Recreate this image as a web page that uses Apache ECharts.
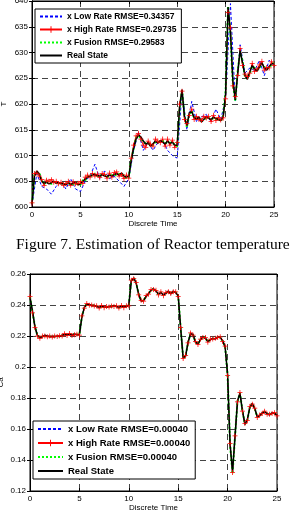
<!DOCTYPE html>
<html lang="en">
<head>
	<meta charset="UTF-8">
	<title>Figure 7</title>
	<style>
		html,body{background-color:#fff;height:100%;overflow:hidden;margin:0;padding:0;}
		#main{position:absolute;top:0;left:0;width:298px;height:514px;}
	</style>
</head>
<body>
	<div id="main"></div>
	<script src="https://cdn.jsdelivr.net/npm/echarts@6/dist/echarts.min.js"></script>
	<script>
		// time axes
		var tFine = [0,0.25,0.5,0.75,1,1.25,1.5,1.75,2,2.25,2.5,2.75,3,3.25,3.5,3.75,4,4.25,4.5,4.75,5,5.25,5.5,5.75,6,6.25,6.5,6.75,7,7.25,7.5,7.75,8,8.25,8.5,8.75,9,9.25,9.5,9.75,10,10.25,10.5,10.75,11,11.25,11.5,11.75,12,12.25,12.5,12.75,13,13.25,13.5,13.75,14,14.25,14.5,14.75,15,15.25,15.5,15.75,16,16.25,16.5,16.75,17,17.25,17.5,17.75,18,18.25,18.5,18.75,19,19.25,19.5,19.75,20,20.25,20.5,20.75,21,21.25,21.5,21.75,22,22.25,22.5,22.75,23,23.25,23.5,23.75,24,24.25,24.5,24.75,25];
		var tCoarse = [0,0.5,1,1.5,2,2.5,3,3.5,4,4.5,5,5.5,6,6.5,7,7.5,8,8.5,9,9.5,10,10.5,11,11.5,12,12.5,13,13.5,14,14.5,15,15.5,16,16.5,17,17.5,18,18.5,19,19.5,20,20.5,21,21.5,22,22.5,23,23.5,24,24.5,25];

		// top chart: reactor temperature
		var tempNames = ['x Low Rate RMSE=0.34357', 'x High Rate RMSE=0.29735', 'x Fusion RMSE=0.29583', 'Real State'];
		var tempTicks = [600, 640, 5];
		var tempReal = [
			600.5,606.0,607.0,606.4, 605.0,604.6,604.8,604.5, 604.7,605.0,604.6,604.8, 604.5,604.6,604.3,604.7,
			604.4,604.6,604.8,604.3, 604.5,605.0,605.4,605.8, 606.0,606.2,606.3,606.1, 606.0,606.3,606.0,605.9,
			606.2,606.0,606.3,606.5, 606.2,606.6,606.0,605.8, 606.0,609.0,611.5,613.2, 614.0,613.6,612.8,612.2,
			612.5,611.8,612.3,612.8, 612.4,612.9,612.6,612.2, 612.8,612.3,612.6,612.0, 612.0,619.5,622.8,617.5,
			615.8,618.3,618.5,617.4, 617.0,617.5,616.5,617.0, 617.6,617.2,617.0,617.4, 617.2,617.0,616.8,617.5,
			622.0,638.8,634.0,624.5, 620.8,626.0,630.4,628.0, 625.5,624.8,626.2,627.5, 626.8,626.4,627.2,628.0,
			627.0,626.6,627.3,627.8, 627.8];
		var tempHigh = [
			600.8,606.5,606.6,606.0, 605.3,604.2,605.2,605.0, 605.3,604.8,605.0,604.5, 604.8,604.2,604.6,605.0,
			604.2,604.9,604.5,604.6, 605.0,604.6,605.8,606.2, 605.8,606.5,606.0,606.4, 605.7,606.5,606.3,605.6,
			606.6,605.8,606.7,606.8, 606.0,606.3,605.5,606.2, 605.6,609.5,612.0,613.8, 614.3,613.2,612.0,611.6,
			612.8,612.2,611.8,613.2, 612.8,612.5,613.2,611.8, 613.2,612.0,613.0,611.6, 612.5,620.0,622.5,617.0,
			616.2,617.8,619.0,617.0, 617.6,617.0,616.8,617.6, 617.3,617.6,616.6,617.8, 616.8,617.4,616.9,617.3,
			621.0,637.8,634.8,623.5, 621.5,625.5,630.8,627.5, 625.8,625.3,626.0,627.9, 626.3,626.8,627.6,628.3,
			626.6,627.1,627.0,628.2, 627.5];
		var tempFusion = [
			600.6,606.2,606.8,606.6, 605.2,604.4,605.0,604.7, 604.5,604.8,604.9,604.6, 604.7,604.4,604.5,604.5,
			604.6,604.4,604.6,604.5, 604.3,605.2,605.2,605.9, 606.2,606.0,606.5,606.0, 606.2,606.1,606.2,605.8,
			606.0,606.2,606.1,606.3, 606.4,606.4,606.2,605.6, 605.8,609.3,611.3,613.4, 613.8,613.4,612.6,612.4,
			612.3,612.0,612.1,612.6, 612.6,612.7,612.8,612.4, 612.6,612.5,612.4,612.2, 611.8,619.2,622.6,617.8,
			615.5,618.0,618.7,617.2, 617.2,617.3,616.7,616.9, 617.4,617.3,617.2,617.2, 617.0,617.2,616.6,617.7,
			622.5,639.0,633.5,624.0, 620.5,626.4,630.2,628.3, 625.2,625.0,626.0,627.3, 627.0,626.6,627.0,627.8,
			627.2,626.8,627.1,627.6, 628.0];
		var tempLow = [
			600.5,606.5, 604.0,603.5, 602.5,604.0, 605.0,603.5, 605.5,603.5, 603.0,605.0, 606.0,608.3,
			605.5,607.0, 605.5,606.0, 605.0,604.0, 605.5,611.0, 614.5,611.0, 612.5,611.0, 612.5,613.0,
			611.0,610.0, 609.5,622.5, 615.0,620.5, 616.5,617.5, 618.0,616.5, 619.0,617.0, 621.0,639.5,
			620.5,631.5, 626.0,627.0, 626.5,628.5, 625.5,628.5, 627.5];

		// bottom chart: concentration
		var concNames = ['x Low Rate RMSE=0.00040', 'x High Rate RMSE=0.00040', 'x Fusion RMSE=0.00040', 'Real State'];
		var concTicks = [0.12, 0.26, 0.02];
		var concReal = [
			0.2450,0.2360,0.2260,0.2205, 0.2190,0.2195,0.2205,0.2200, 0.2195,0.2198,0.2195,0.2200, 0.2197,0.2205,0.2210,0.2208,
			0.2212,0.2207,0.2213,0.2208, 0.2210,0.2320,0.2385,0.2405, 0.2403,0.2395,0.2398,0.2390, 0.2385,0.2392,0.2388,0.2385,
			0.2392,0.2388,0.2395,0.2390, 0.2385,0.2392,0.2388,0.2390, 0.2400,0.2555,0.2575,0.2540, 0.2470,0.2425,0.2430,0.2455,
			0.2475,0.2495,0.2505,0.2490, 0.2470,0.2480,0.2465,0.2475, 0.2490,0.2470,0.2490,0.2480, 0.2460,0.2250,0.2060,0.2070,
			0.2160,0.2215,0.2210,0.2160, 0.2150,0.2175,0.2195,0.2185, 0.2165,0.2175,0.2185,0.2180, 0.2195,0.2190,0.2170,0.2130,
			0.1950,0.1500,0.1325,0.1550, 0.1780,0.1830,0.1720,0.1630, 0.1660,0.1740,0.1765,0.1730, 0.1680,0.1685,0.1705,0.1710,
			0.1700,0.1690,0.1705,0.1700, 0.1690];
		var concHigh = [
			0.2455,0.2350,0.2255,0.2200, 0.2185,0.2200,0.2200,0.2195, 0.2200,0.2193,0.2200,0.2196, 0.2202,0.2200,0.2215,0.2204,
			0.2216,0.2203,0.2208,0.2212, 0.2205,0.2330,0.2380,0.2410, 0.2398,0.2400,0.2393,0.2395, 0.2380,0.2397,0.2383,0.2390,
			0.2387,0.2393,0.2390,0.2395, 0.2380,0.2397,0.2383,0.2395, 0.2395,0.2560,0.2570,0.2545, 0.2465,0.2430,0.2425,0.2460,
			0.2470,0.2500,0.2500,0.2495, 0.2465,0.2485,0.2460,0.2480, 0.2485,0.2475,0.2485,0.2485, 0.2455,0.2255,0.2055,0.2075,
			0.2155,0.2220,0.2205,0.2165, 0.2145,0.2180,0.2190,0.2190, 0.2160,0.2180,0.2180,0.2185, 0.2190,0.2195,0.2165,0.2135,
			0.1945,0.1505,0.1320,0.1555, 0.1775,0.1835,0.1715,0.1635, 0.1655,0.1745,0.1760,0.1735, 0.1675,0.1690,0.1700,0.1715,
			0.1695,0.1695,0.1700,0.1705, 0.1685];
		var concFusion = [
			0.2452,0.2356,0.2262,0.2203, 0.2192,0.2197,0.2203,0.2198, 0.2197,0.2196,0.2197,0.2198, 0.2199,0.2203,0.2208,0.2210,
			0.2210,0.2209,0.2211,0.2210, 0.2208,0.2325,0.2383,0.2407, 0.2401,0.2397,0.2396,0.2392, 0.2383,0.2394,0.2386,0.2387,
			0.2390,0.2390,0.2393,0.2392, 0.2383,0.2394,0.2386,0.2392, 0.2398,0.2557,0.2573,0.2542, 0.2468,0.2427,0.2428,0.2457,
			0.2473,0.2497,0.2503,0.2492, 0.2468,0.2482,0.2463,0.2477, 0.2488,0.2472,0.2488,0.2482, 0.2458,0.2252,0.2058,0.2072,
			0.2158,0.2217,0.2208,0.2162, 0.2148,0.2177,0.2193,0.2187, 0.2163,0.2177,0.2183,0.2182, 0.2193,0.2192,0.2168,0.2132,
			0.1948,0.1502,0.1310,0.1552, 0.1778,0.1832,0.1718,0.1632, 0.1658,0.1742,0.1763,0.1732, 0.1678,0.1687,0.1703,0.1712,
			0.1698,0.1692,0.1703,0.1702, 0.1688];
		var concLow = [
			0.2449,0.2358,0.2258,0.2207, 0.2191,0.2196,0.2204,0.2201, 0.2196,0.2199,0.2196,0.2199, 0.2198,0.2204,0.2209,0.2209,
			0.2211,0.2208,0.2212,0.2209, 0.2209,0.2322,0.2384,0.2404, 0.2402,0.2396,0.2397,0.2391, 0.2386,0.2391,0.2389,0.2386,
			0.2391,0.2389,0.2394,0.2391, 0.2386,0.2391,0.2389,0.2391, 0.2401,0.2554,0.2574,0.2541, 0.2471,0.2426,0.2431,0.2454,
			0.2474,0.2494,0.2504,0.2491, 0.2471,0.2479,0.2466,0.2474, 0.2489,0.2471,0.2489,0.2481, 0.2461,0.2251,0.2061,0.2071,
			0.2161,0.2214,0.2211,0.2161, 0.2151,0.2174,0.2194,0.2186, 0.2166,0.2174,0.2186,0.2181, 0.2194,0.2191,0.2171,0.2131,
			0.1951,0.1501,0.1326,0.1549, 0.1779,0.1829,0.1721,0.1631, 0.1661,0.1739,0.1764,0.1731, 0.1681,0.1684,0.1706,0.1709,
			0.1701,0.1689,0.1706,0.1699, 0.1691];

		var xTicks = [0, 25, 5];

		var plus = 'path://M3.4,0h1.2v8h-1.2zM0,3.4h8v1.2h-8z';
		var dash = [6, 4];
		var font = 'Liberation Sans, Arial, sans-serif';

		function pairs(ts, vs){
			var out = [];
			for(var i = 0; i < vs.length; i++){ out.push([ts[i], vs[i]]); }
			return out;
		}

		function mainX(grid, gap){
			return {
				type: 'value', gridIndex: grid, min: xTicks[0], max: xTicks[1], interval: xTicks[2],
				name: 'Discrete Time', nameLocation: 'middle', nameGap: gap,
				nameTextStyle: {color: '#000', fontSize: 8, fontFamily: font},
				axisLine: {lineStyle: {color: '#000', width: 1}},
				axisTick: {inside: true, length: 3, lineStyle: {color: '#000'}},
				axisLabel: {color: '#000', fontSize: 8, fontFamily: font, margin: 4},
				splitLine: {show: true, lineStyle: {color: '#444', type: dash, width: 1}}
			};
		}
		function sideX(grid){
			return {
				type: 'value', gridIndex: grid, position: 'top', min: xTicks[0], max: xTicks[1], interval: xTicks[2],
				axisLine: {lineStyle: {color: '#000'}},
				axisTick: {inside: true, length: 3, lineStyle: {color: '#000'}},
				axisLabel: {show: false}, splitLine: {show: false}
			};
		}
		function mainY(grid, ticks, name, gap){
			return {
				type: 'value', gridIndex: grid, min: ticks[0], max: ticks[1], interval: ticks[2],
				name: name, nameLocation: 'middle', nameGap: gap, nameMoveOverlap: false,
				nameTextStyle: {color: '#000', fontSize: 8, fontFamily: font},
				axisLine: {show: true, lineStyle: {color: '#000', width: 1}},
				axisTick: {show: true, inside: true, length: 3, lineStyle: {color: '#000'}},
				axisLabel: {color: '#000', fontSize: 8, fontFamily: font, margin: 4},
				splitLine: {show: true, lineStyle: {color: '#444', type: dash, width: 1}}
			};
		}
		function sideY(grid, ticks){
			return {
				type: 'value', gridIndex: grid, position: 'right', min: ticks[0], max: ticks[1], interval: ticks[2],
				axisLine: {show: true, lineStyle: {color: '#000'}},
				axisTick: {show: true, inside: true, length: 3, lineStyle: {color: '#000'}},
				axisLabel: {show: false}, splitLine: {show: false}
			};
		}

		function makeSeries(names, axis, low, lowT, high, fusion, real){
			return [{
				name: names[0], type: 'line', xAxisIndex: axis, yAxisIndex: axis,
				data: pairs(lowT, low), symbol: 'none',
				lineStyle: {color: '#0000ff', width: 1, type: [3, 2]}, itemStyle: {color: '#0000ff'}
			}, {
				name: names[1], type: 'line', xAxisIndex: axis, yAxisIndex: axis,
				data: pairs(tFine, high), symbol: plus, symbolSize: 5, showSymbol: true,
				lineStyle: {color: '#ff0000', width: 1}, itemStyle: {color: '#ff0000'}
			}, {
				name: names[2], type: 'line', xAxisIndex: axis, yAxisIndex: axis,
				data: pairs(tFine, fusion), symbol: 'none',
				lineStyle: {color: '#00ff00', width: 2, type: [2, 2]}, itemStyle: {color: '#00ff00'}
			}, {
				name: names[3], type: 'line', xAxisIndex: axis, yAxisIndex: axis,
				data: pairs(tFine, real), symbol: 'none',
				lineStyle: {color: '#000', width: 1.5}, itemStyle: {color: '#000'}
			}];
		}

		function makeLegend(names, left, top, size, w){
			var hide = {opacity: 0};
			return {
				orient: 'vertical', left: left, top: top,
				data: [
					{name: names[0], itemStyle: hide},
					{name: names[1]},
					{name: names[2], itemStyle: hide},
					{name: names[3], itemStyle: hide}
				],
				backgroundColor: '#fff', borderColor: '#000', borderWidth: 1, borderRadius: 0,
				padding: [3, 5, 3, 4], itemGap: 4, itemWidth: w, itemHeight: 8,
				textStyle: {color: '#000', fontSize: size, fontWeight: 'bold', fontFamily: font},
				selectedMode: false
			};
		}

		var chart = echarts.init(document.getElementById('main'));
		var option = {
			animation: false,
			backgroundColor: '#fff',
			grid: [
				{left: 32, right: 24, top: 1, height: 206, show: true, borderColor: '#000', borderWidth: 1, containLabel: false, outerBoundsMode: 'none'},
				{left: 30, right: 21, top: 274, height: 217, show: true, borderColor: '#000', borderWidth: 1, containLabel: false, outerBoundsMode: 'none'}
			],
			xAxis: [mainX(0, 12), mainX(1, 13), sideX(0), sideX(1)],
			yAxis: [mainY(0, tempTicks, 'T', 24), mainY(1, concTicks, 'Ca', 25), sideY(0, tempTicks), sideY(1, concTicks)],
			legend: [makeLegend(tempNames, 35, 9, 8.5, 22), makeLegend(concNames, 33, 421, 9.5, 25)],
			graphic: [{
				type: 'text', left: 16, top: 237,
				style: {text: 'Figure 7. Estimation of Reactor temperature', fill: '#000', font: '15.5px "Liberation Serif", "Times New Roman", serif'}
			}],
			series: makeSeries(tempNames, 0, tempLow, tCoarse, tempHigh, tempFusion, tempReal)
				.concat(makeSeries(concNames, 1, concLow, tFine, concHigh, concFusion, concReal))
		};
		chart.setOption(option);
	</script>
</body>
</html>
